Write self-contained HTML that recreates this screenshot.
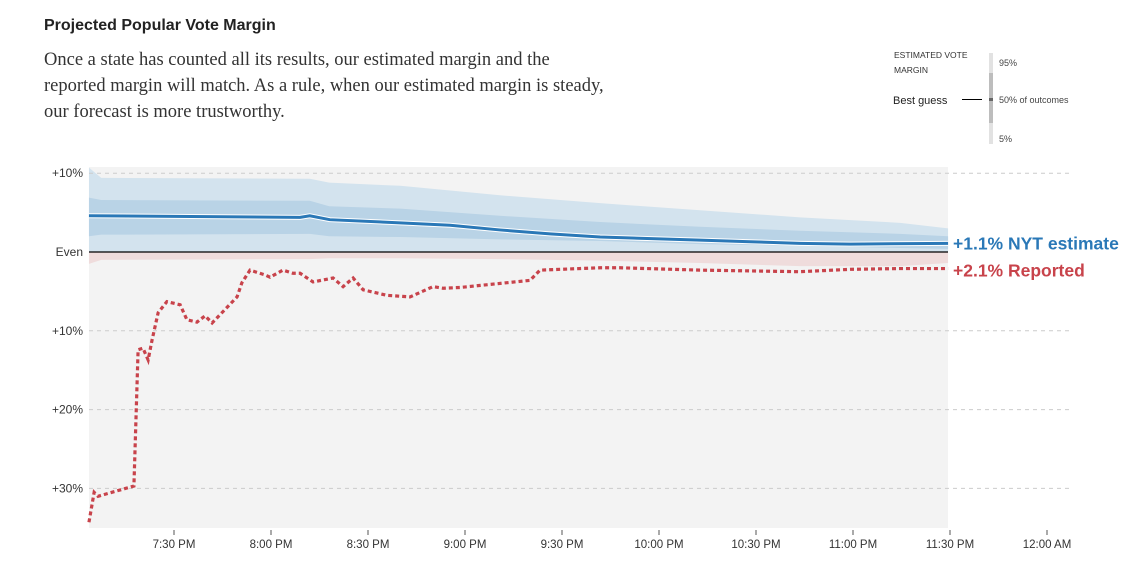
<!DOCTYPE html>
<html><head><meta charset="utf-8"><style>
body{margin:0;background:#fff;width:1142px;height:571px;overflow:hidden;font-family:"Liberation Sans",sans-serif}
#title{position:absolute;left:44px;top:17px;font-weight:bold;font-size:16px;color:#222}
#desc{position:absolute;left:44px;top:47px;font-family:"Liberation Serif",serif;font-size:18.5px;line-height:26px;color:#333;white-space:nowrap}
svg{position:absolute;left:0;top:0}
</style></head><body>
<div id="title">Projected Popular Vote Margin</div>
<div id="desc">Once a state has counted all its results, our estimated margin and the<br>reported margin will match. As a rule, when our estimated margin is steady,<br>our forecast is more trustworthy.</div>
<svg id="chart" width="1142" height="571"></svg>
<script>
const redTimes=[3.7,5.3,6.5,17.6,18.9,20.4,22,23.2,25.1,27.8,31.9,34,37.1,39.6,41.8,49.5,51,53.5,58.1,59.7,63.7,66.8,69,73,79.2,82.3,85.4,88.5,95.9,103,110.1,113.2,118.5,140.1,143.2,161.8,167.9,192.7,223.6,239.1,254.6,269.4];
const redValues=[-34.3,-30.5,-31,-29.7,-12.4,-12.2,-13.7,-11.2,-7.7,-6.3,-6.7,-8.6,-8.9,-8.1,-9,-5.7,-3.9,-2.3,-2.9,-3.2,-2.3,-2.7,-2.7,-3.8,-3.3,-4.4,-3.3,-4.8,-5.5,-5.7,-4.4,-4.6,-4.5,-3.6,-2.3,-2,-2,-2.3,-2.5,-2.2,-2.1,-2.1];
const blueTimes=[3.7,69,72,78.2,99.9,115.4,130.8,146.3,161.8,192.7,208.2,223.6,239.1,269.4];
const blueValues=[4.6,4.4,4.6,4.1,3.7,3.4,2.8,2.3,1.9,1.5,1.3,1.1,1.0,1.1];
const bandTimes=[3.7,7.5,72,78,100,130.8,161.8,192.7,223.6,254.6,269.4];
const outerUpper=[10.7,9.4,9.3,8.8,8.4,7.2,6.2,5.3,4.4,3.7,3.0];
const innerUpper=[6.9,6.6,6.5,5.8,5.5,4.6,3.8,3.2,2.7,2.3,2.0];
const innerLower=[2.0,2.2,2.3,2.0,1.9,1.6,1.4,1.0,0.8,0.5,0.4];
const outerLower=[-1.5,-1.0,-0.9,-0.8,-0.8,-0.9,-1.1,-1.4,-1.8,-1.8,-1.4];
const yTicks=[10,0,-10,-20,-30];
const yTickLabels=["+10%","Even","+10%","+20%","+30%"];
const xTicks=[30,60,90,120,150,180,210,240,270,300];
const xTickLabels=["7:30 PM","8:00 PM","8:30 PM","9:00 PM","9:30 PM","10:00 PM","10:30 PM","11:00 PM","11:30 PM","12:00 AM"];
const estLabel="+1.1% NYT estimate", repLabel="+2.1% Reported";

const X=t=>174+(t-30)*97/30;
const Y=v=>252-v*7.88;
const svg=document.getElementById('chart');
const NS='http://www.w3.org/2000/svg';
function mk(tag,attrs,parent){const e=document.createElementNS(NS,tag);for(const k in attrs)e.setAttribute(k,attrs[k]);(parent||svg).appendChild(e);return e;}
const bg=mk('rect',{x:89,y:167,width:859,height:361,fill:'#f3f3f3'});


function band(up,lo,fill,name){
  let d='M'+bandTimes.map((t,i)=>X(t)+','+Y(up[i])).join('L');
  for(let i=bandTimes.length-1;i>=0;i--)d+='L'+X(bandTimes[i])+','+Y(lo[i]);
  const p=mk('path',{d:d+'Z',fill:fill});
  
  
}
band(outerLower.map(()=>0),outerLower,'#efdcdc','reported-side-band');
band(outerUpper,outerLower.map(v=>Math.max(v,0)),'#d3e3ee','outer-band');
band(innerUpper,innerLower,'#b9d3e6','inner-band');
yTicks.forEach((v,i)=>{
  if(v!==0){const g=mk('line',{x1:89,x2:1072,y1:Y(v),y2:Y(v),stroke:'#ccc','stroke-dasharray':'4,4'});
  
  }
  const t=mk('text',{x:83,y:Y(v)+4,'text-anchor':'end','font-size':'12',fill:'#333'});t.textContent=yTickLabels[i];
  
  
});
const ev=mk('line',{x1:89,x2:948,y1:Y(0),y2:Y(0),stroke:'#000','stroke-width':1.3});


xTicks.forEach((t,i)=>{
  const l=mk('line',{x1:X(t),x2:X(t),y1:530,y2:535,stroke:'#555'});
  
  
  const tx=mk('text',{x:X(t),y:548,'text-anchor':'middle','font-size':'11.5',fill:'#333'});tx.textContent=xTickLabels[i];
  
  
});
const bd='M'+blueTimes.map((t,i)=>X(t)+','+Y(blueValues[i])).join('L');
const halo=mk('path',{d:bd,fill:'none',stroke:'#fff','stroke-width':5});


const bl=mk('path',{d:bd,fill:'none',stroke:'#2a78b7','stroke-width':3});


const rd='M'+redTimes.map((t,i)=>X(t)+','+Y(redValues[i])).join('L');
const rl=mk('path',{d:rd,fill:'none',stroke:'#c8434b','stroke-width':3.2,'stroke-dasharray':'4,3'});


const el=mk('text',{x:953,y:Y(blueValues[blueValues.length-1])+6,'font-size':'17.5','font-weight':'bold',fill:'#2a78b7'});el.textContent=estLabel;


const rlb=mk('text',{x:953,y:Y(redValues[redValues.length-1])+8,'font-size':'17.5','font-weight':'bold',fill:'#c8434b'});rlb.textContent=repLabel;


// legend
const lg=mk('g',{});


[['ESTIMATED VOTE',894,58],['MARGIN',894,73]].forEach(a=>{const t=mk('text',{x:a[1],y:a[2],'font-size':'8.5',fill:'#333'},lg);t.textContent=a[0];});
mk('rect',{x:989,y:53,width:4,height:91,fill:'#e2e2e2'},lg);
mk('rect',{x:989,y:73,width:4,height:50,fill:'#bdbdbd'},lg);
mk('rect',{x:989,y:98,width:4,height:3,fill:'#666'},lg);
mk('line',{x1:962,x2:982,y1:99.5,y2:99.5,stroke:'#000'},lg);
const bg2=mk('text',{x:893,y:104,'font-size':'11',fill:'#222'},lg);bg2.textContent='Best guess';
[['95%',999,66],['50% of outcomes',999,103],['5%',999,142]].forEach(a=>{const t=mk('text',{x:a[1],y:a[2],'font-size':'9',fill:'#444'},lg);t.textContent=a[0];});
</script>
</body></html>
